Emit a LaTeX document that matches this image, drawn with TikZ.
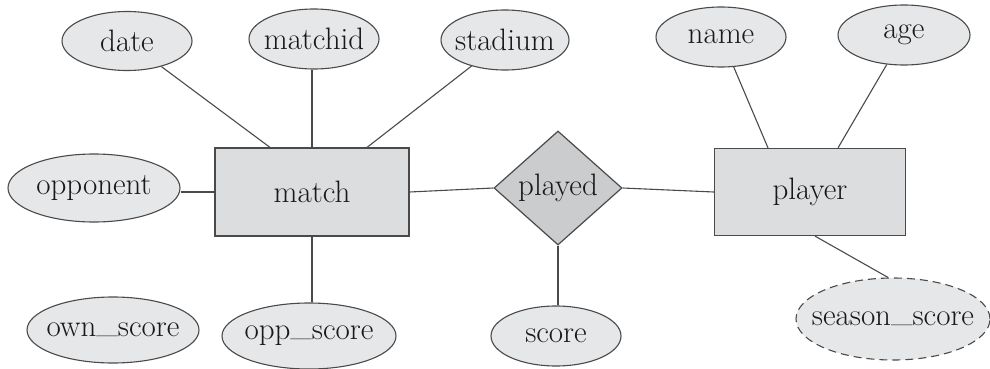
\documentclass[tikz,border=0pt]{standalone}
\usetikzlibrary{shapes.geometric,calc}
\definecolor{attrfill}{HTML}{E6E7E8}
\definecolor{entfill}{HTML}{DCDDDF}
\definecolor{relfill}{HTML}{CBCCCE}
\definecolor{edge}{HTML}{4A4A4A}
\newcommand{\usc}{\raisebox{0.3ex}{\_}}
\begin{document}
\begin{tikzpicture}[x=1pt,y=-1pt,
  every node/.style={font=\fontsize{31}{35}\selectfont, text=black!90},
  every label/.style={font=\fontsize{31}{35}\selectfont, text=black!90},
  attr/.style={ellipse, draw=edge, line width=1.1pt, fill=attrfill, inner sep=0pt, label={center:#1}},
  entity/.style={rectangle, draw=edge, line width=1.2pt, fill=entfill, minimum width=194pt, minimum height=88pt},
  rel/.style={diamond, draw=edge, line width=1.2pt, fill=relfill, minimum width=128pt, minimum height=114pt, inner sep=0pt},
  conn/.style={draw=edge, line width=1.1pt}]
\useasboundingbox (0,0) rectangle (990,369);
% entities and relationship
\node[entity] (match) at (312,192) {match};
\node[entity, minimum width=191pt, minimum height=87pt] (player) at (810,192) {player};
\node[rel, label={center:played}] (played) at (558,188) {};
% attributes
\node[attr={date}, minimum width=130pt, minimum height=59pt] (date) at (127,41) {};
\node[attr={matchid}, minimum width=130pt, minimum height=60pt] (matchid) at (314,39) {};
\node[attr={stadium}, minimum width=128pt, minimum height=60pt] (stadium) at (505,40) {};
\node[attr={name}, minimum width=130pt, minimum height=60pt] (name) at (721,37) {};
\node[attr={age}, minimum width=132pt, minimum height=60pt] (age) at (904,35) {};
\node[attr={opponent}, minimum width=172pt, minimum height=68pt] (opponent) at (94,188) {};
\node[attr={own\usc score}, minimum width=172pt, minimum height=66pt] (ownscore) at (113,330) {};
\node[attr={opp\usc score}, minimum width=174pt, minimum height=66pt] (oppscore) at (309,336) {};
\node[attr={score}, minimum width=130pt, minimum height=60pt] (score) at (556,336) {};
\node[attr={season\usc score}, minimum width=194pt, minimum height=82pt, dashed, dash pattern=on 8pt off 5pt] (season) at (893,319) {};
% connectors
\draw[conn] (date) -- ([xshift=-42pt]match.north);
\draw[conn] (matchid.south -| match.north) -- (match.north);
\draw[conn] (stadium) -- ([xshift=55pt]match.north);
\draw[conn] (opponent.east |- match.west) -- (match.west);
\draw[conn] (match.east) -- (played.west);
\draw[conn] (played.east) -- (player.west);
\draw[conn] (match.south) -- (oppscore.north -| match.south);
\draw[conn] (played.south) -- (score.north -| played.south);
\draw[conn] (name) -- ([xshift=-42pt]player.north);
\draw[conn] (age) -- ([xshift=28pt]player.north);
\draw[conn] ([xshift=5pt]player.south) -- ([xshift=-5pt]season.north);
\end{tikzpicture}
\end{document}
